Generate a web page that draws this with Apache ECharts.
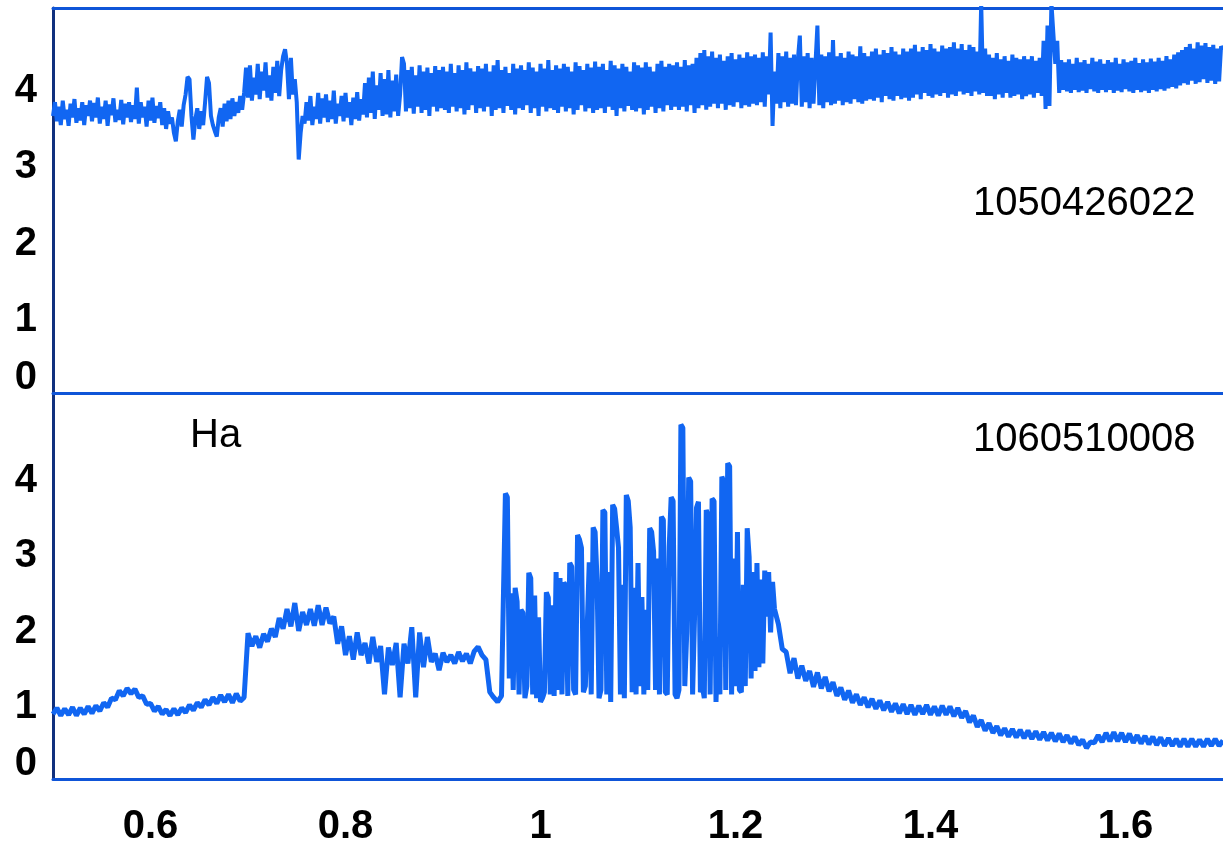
<!DOCTYPE html>
<html>
<head>
<meta charset="utf-8">
<script src="https://cdn.jsdelivr.net/npm/echarts@6/dist/echarts.min.js"></script>
<style>
  html, body { margin: 0; padding: 0; background: #fff; }
  #chart { width: 1223px; height: 844px; }
</style>
</head>
<body>
<div id="chart"></div>
<script>
// Upper panel: observation 1050426022, sampled every 0.002 from 0.5
const topStart = 0.5, topStep = 0.002;
const topFlux = [
  3.62,3.80,3.55,3.74,3.50,3.82,3.58,3.70,3.49,3.78,3.60,3.84,3.53,3.72,3.56,3.80,3.50,3.76,3.62,3.82,
  3.55,3.79,3.60,3.86,3.52,3.74,3.58,3.82,3.49,3.77,3.63,3.85,3.54,3.70,3.57,3.83,3.51,3.78,3.60,3.80,
  3.54,3.76,3.58,3.99,3.52,3.80,3.60,3.74,3.48,3.82,3.56,3.86,3.53,3.75,3.59,3.80,3.50,3.72,3.45,3.68,
  3.52,3.60,3.40,3.29,3.55,3.70,3.48,3.76,3.90,4.13,4.10,3.62,3.31,3.58,3.72,3.45,3.68,3.50,3.80,4.13,
  4.05,3.62,3.50,3.42,3.35,3.60,3.72,3.48,3.78,3.55,3.82,3.58,3.85,3.62,3.80,3.66,3.88,3.70,3.92,4.25,
  3.86,4.28,3.82,4.12,3.90,4.30,3.84,4.20,3.95,4.32,3.86,4.15,3.82,4.26,3.92,4.34,3.88,4.22,4.40,4.49,
  4.30,3.84,4.38,3.90,4.10,3.80,3.05,3.40,3.62,3.52,3.80,3.56,3.88,3.50,3.74,3.58,3.92,3.52,3.85,3.60,
  3.90,3.54,3.82,3.58,3.95,3.52,3.78,3.62,3.88,3.55,3.92,3.60,3.80,3.50,3.86,3.58,3.93,3.56,3.84,3.64,
  4.05,3.60,4.12,3.66,4.20,3.58,4.02,3.70,4.18,3.62,4.10,3.64,4.22,3.60,4.08,3.68,4.16,3.62,3.90,4.39,
  4.30,3.68,4.22,3.72,4.26,3.65,4.15,3.74,4.28,3.66,4.20,3.70,4.25,3.62,4.18,3.74,4.27,3.68,4.22,3.72,
  4.26,3.70,4.20,3.66,4.30,3.74,4.18,3.68,4.28,3.72,4.22,3.64,4.32,3.70,4.24,3.76,4.20,3.66,4.27,3.72,
  4.24,3.68,4.30,3.74,4.20,3.62,4.28,3.70,4.35,3.72,4.22,3.66,4.26,3.75,4.18,3.70,4.30,3.64,4.24,3.72,
  4.28,3.70,4.22,3.76,4.32,3.66,4.25,3.72,4.20,3.62,4.30,3.74,4.24,3.68,4.35,3.72,4.22,3.70,4.28,3.66,
  4.24,3.74,4.30,3.68,4.26,3.72,4.20,3.64,4.32,3.70,4.27,3.76,4.22,3.68,4.30,3.72,4.25,3.66,4.33,3.70,
  4.26,3.72,4.30,3.66,4.22,3.74,4.34,3.70,4.28,3.62,4.24,3.72,4.30,3.68,4.26,3.75,4.20,3.70,4.32,3.68,
  4.28,3.72,4.25,3.64,4.32,3.70,4.26,3.74,4.20,3.66,4.30,3.72,4.34,3.68,4.26,3.76,4.30,3.70,4.28,3.74,
  4.32,3.70,4.26,3.74,4.35,3.68,4.28,3.76,4.30,3.66,4.38,3.72,4.44,3.76,4.48,3.70,4.40,3.74,4.46,3.78,
  4.38,3.72,4.42,3.78,4.34,3.70,4.40,3.76,4.44,3.74,4.36,3.80,4.42,3.72,4.38,3.76,4.45,3.74,4.40,3.78,
  4.42,3.76,4.38,3.80,4.45,3.74,4.40,3.90,4.71,3.49,4.20,3.78,4.44,3.72,4.40,3.80,4.46,3.74,4.38,3.78,
  4.42,3.76,4.36,4.67,3.74,4.40,3.80,4.44,3.72,4.38,3.78,4.30,4.80,3.76,4.42,3.72,4.40,3.80,4.45,3.76,
  4.61,3.78,4.40,3.82,4.44,3.76,4.38,3.80,4.46,3.78,4.42,3.84,4.40,3.80,4.53,3.78,4.44,3.82,4.40,3.84,
  4.46,3.82,4.50,3.86,4.42,3.80,4.48,3.88,4.44,3.84,4.52,3.82,4.46,3.88,4.42,3.84,4.50,3.86,4.46,3.82,
  4.50,3.86,4.55,3.90,4.46,3.84,4.52,3.92,4.48,3.88,4.56,3.86,4.50,3.90,4.46,3.88,4.54,3.92,4.50,3.86,
  4.52,3.90,4.58,3.88,4.50,3.94,4.56,3.90,4.48,3.92,4.55,3.88,4.52,3.94,4.46,3.90,5.10,3.92,4.50,3.88,
  4.42,3.88,4.38,3.84,4.44,3.90,4.36,3.86,4.40,3.92,4.34,3.86,4.42,3.88,4.38,3.90,4.36,3.84,4.40,3.88,
  4.36,3.90,4.40,3.86,4.34,3.92,4.38,3.88,4.60,3.71,4.80,3.75,5.10,5.10,4.30,4.60,3.92,4.35,3.96,4.32,
  3.94,4.36,3.92,4.30,3.96,4.38,3.93,4.32,3.95,4.35,3.92,4.30,3.97,4.38,3.94,4.33,3.92,4.36,3.96,4.30,
  3.93,4.35,3.96,4.32,3.92,4.38,3.95,4.30,3.93,4.36,3.97,4.32,3.94,4.34,3.92,4.38,3.96,4.31,3.93,4.36,
  3.95,4.32,3.92,4.37,3.96,4.33,3.94,4.38,3.97,4.34,3.95,4.40,3.98,4.36,4.00,4.42,3.98,4.45,4.02,4.48,
  4.05,4.52,4.03,4.56,4.08,4.50,4.04,4.58,4.06,4.54,4.10,4.57,4.05,4.52,4.08,4.55,4.04,4.50,4.07,4.53,
  4.48
];

// Lower panel: observation 1060510008 (Ha), in three sampled stretches
const haPreStart = 0.5, haPreStep = 0.004;
const haPre = [
  0.86,0.94,0.84,0.93,0.85,0.95,0.84,0.94,0.86,0.96,
  0.87,0.97,0.90,1.01,0.95,1.07,1.05,1.17,1.10,1.20,
  1.13,1.19,1.08,1.10,0.99,1.00,0.90,0.96,0.86,0.92,
  0.84,0.93,0.85,0.94,0.88,0.98,0.91,1.01,0.95,1.05,
  0.98,1.08,1.00,1.11,1.02,1.12,1.01,1.13,1.03,1.08,
  1.93,1.76,1.89,1.74,1.92,1.82,1.99,1.88,2.13,1.99,
  2.25,2.02,2.33,1.96,2.21,2.04,2.25,2.03,2.30,2.04,
  2.27,2.06,2.15,1.79,2.02,1.64,1.89,1.58,1.94,1.64,
  1.80,1.53,1.88,1.55,1.76,1.12,1.74,1.51,1.80,1.08,
  1.79,1.53,2.01,1.08,1.94,1.48,1.88,1.55,1.66,1.44,
  1.67,1.55,1.64,1.53,1.68,1.56,1.66,1.53,1.69,1.75,
  1.64,1.58,1.15,1.08,1.02,1.10
];

const haBurstStart = 0.964, haBurstStep = 0.002;
const haBurst = [
  3.78,3.73,1.33,2.46,1.18,2.53,2.35,1.12,2.24,2.20,
  1.07,1.23,2.73,2.66,1.12,2.43,1.07,2.14,1.02,1.07,
  1.15,2.47,2.40,1.12,2.30,1.10,2.74,1.18,2.66,1.12,
  2.60,2.56,1.10,2.86,2.81,1.18,1.12,3.23,3.17,3.06,
  1.15,1.23,2.05,2.87,1.12,3.33,3.27,2.64,1.07,1.18,
  3.56,3.53,1.12,2.74,1.02,3.63,3.58,3.33,3.06,1.12,
  2.57,1.07,3.76,3.68,3.33,1.15,2.53,1.12,2.86,1.23,
  2.41,1.12,2.24,1.18,3.32,3.27,3.01,1.18,2.92,1.12,
  3.47,3.43,1.15,1.12,3.07,3.73,3.68,1.12,1.07,1.18,
  4.69,4.65,1.23,1.94,3.99,3.94,1.12,2.15,3.59,3.67,
  1.15,1.23,1.07,3.56,3.48,1.12,3.71,3.68,1.02,1.88,
  1.12,4.00,3.94,1.18,4.18,4.14,1.12,2.92,1.23,3.27,
  1.18,1.15,2.57,1.23,3.32,2.94,1.33,2.74,1.43,2.86,
  1.48,2.64,1.53,2.76,2.15,2.74,1.94,2.61,2.25
];

const haPostStart = 1.244, haPostStep = 0.004;
const haPost = [
  2.05,1.72,1.68,1.40,1.60,1.33,1.50,1.30,1.43,1.22,
  1.41,1.20,1.35,1.16,1.28,1.10,1.21,1.05,1.17,1.01,
  1.12,0.98,1.08,0.95,1.06,0.93,1.04,0.91,1.02,0.89,
  1.00,0.87,0.99,0.86,0.98,0.85,0.97,0.86,0.98,0.85,
  0.96,0.84,0.97,0.85,0.96,0.83,0.94,0.81,0.90,0.75,
  0.84,0.69,0.78,0.64,0.74,0.61,0.70,0.58,0.67,0.56,
  0.66,0.55,0.65,0.54,0.64,0.53,0.63,0.52,0.62,0.51,
  0.61,0.50,0.60,0.49,0.58,0.47,0.56,0.45,0.52,0.41,
  0.49,0.48,0.58,0.49,0.61,0.50,0.62,0.50,0.61,0.49,
  0.60,0.48,0.58,0.47,0.57,0.46,0.56,0.45,0.55,0.44,
  0.54,0.44,0.53,0.43,0.53,0.43,0.53,0.43,0.52,0.43,
  0.53,0.44,0.53,0.44,0.51
];

const xTicks = ['0.6', '0.8', '1', '1.2', '1.4', '1.6'];
const yTicks = [0, 1, 2, 3, 4];
const topTitle = '1050426022';
const bottomTitle = '1060510008';
const lineTitle = 'Ha';

function toPairs(start, step, values) {
  return values.map((v, i) => [+(start + step * i).toFixed(4), v]);
}

const topData = toPairs(topStart, topStep, topFlux);
const haData = toPairs(haPreStart, haPreStep, haPre)
  .concat(toPairs(haBurstStart, haBurstStep, haBurst))
  .concat(toPairs(haPostStart, haPostStep, haPost));

const FONT = "'Liberation Sans', Arial, sans-serif";
const LINE_BLUE = '#1166f2';
const FRAME_BLUE = '#0f55d8';

function xLabel(v) {
  const s = String(+v.toFixed(1));
  return xTicks.indexOf(s) >= 0 ? s : '';
}
function yLabel(v) {
  if (yTicks.indexOf(v) < 0) return '';
  return v === 0 ? '{z|0}' : '{n|' + v + '}';
}

function yAxisFor(grid, top) {
  const txt = { fontSize: 40, fontWeight: 'bold', fontFamily: FONT, color: '#000' };
  return {
    type: 'value', gridIndex: grid, min: 0, max: top, interval: 1,
    axisLine: { show: true, lineStyle: { color: '#10307e', width: 3 } },
    axisTick: { show: false },
    splitLine: { show: false },
    axisLabel: {
      formatter: yLabel, color: '#000', fontSize: 40, fontWeight: 'bold', fontFamily: FONT, margin: 16,
      rich: {
        n: Object.assign({ padding: [8, 0, 0, 0] }, txt),
        z: Object.assign({ padding: [0, 0, 30, 0] }, txt)
      }
    }
  };
}

const xAxisBase = {
  type: 'value', min: 0.5, max: 1.7, interval: 0.1,
  axisLine: { show: true, onZero: false, lineStyle: { color: FRAME_BLUE, width: 3 } },
  axisTick: { show: false },
  splitLine: { show: false }
};

const chart = echarts.init(document.getElementById('chart'));
chart.setOption({
  animation: false,
  backgroundColor: '#fff',
  grid: [
    { left: 53, right: 0, top: 8, height: 385, outerBoundsMode: 'none', containLabel: false },
    { left: 53, right: 0, top: 393, height: 386, outerBoundsMode: 'none', containLabel: false }
  ],
  xAxis: [
    Object.assign({}, xAxisBase, { gridIndex: 0, position: 'bottom', axisLabel: { show: false } }),
    Object.assign({}, xAxisBase, {
      gridIndex: 1, position: 'bottom',
      axisLabel: { formatter: xLabel, color: '#000', fontSize: 40, fontWeight: 'bold', fontFamily: FONT, margin: 28 }
    }),
    Object.assign({}, xAxisBase, { gridIndex: 0, position: 'top', axisLabel: { show: false } })
  ],
  yAxis: [yAxisFor(0, 5.03), yAxisFor(1, 5.11)],
  series: [
    {
      type: 'line', xAxisIndex: 0, yAxisIndex: 0, data: topData,
      showSymbol: false, lineStyle: { color: LINE_BLUE, width: 4 }, z: 1
    },
    {
      type: 'line', xAxisIndex: 1, yAxisIndex: 1, data: haData,
      showSymbol: false, lineStyle: { color: LINE_BLUE, width: 5 }, z: 1
    }
  ],
  graphic: [
    { type: 'text', left: 973, top: 184, style: { text: topTitle, font: '40px ' + FONT, fill: '#000' } },
    { type: 'text', left: 973, top: 420, style: { text: bottomTitle, font: '40px ' + FONT, fill: '#000' } },
    { type: 'text', left: 190, top: 416, style: { text: lineTitle, font: '40px ' + FONT, fill: '#000' } }
  ]
});
</script>
</body>
</html>
